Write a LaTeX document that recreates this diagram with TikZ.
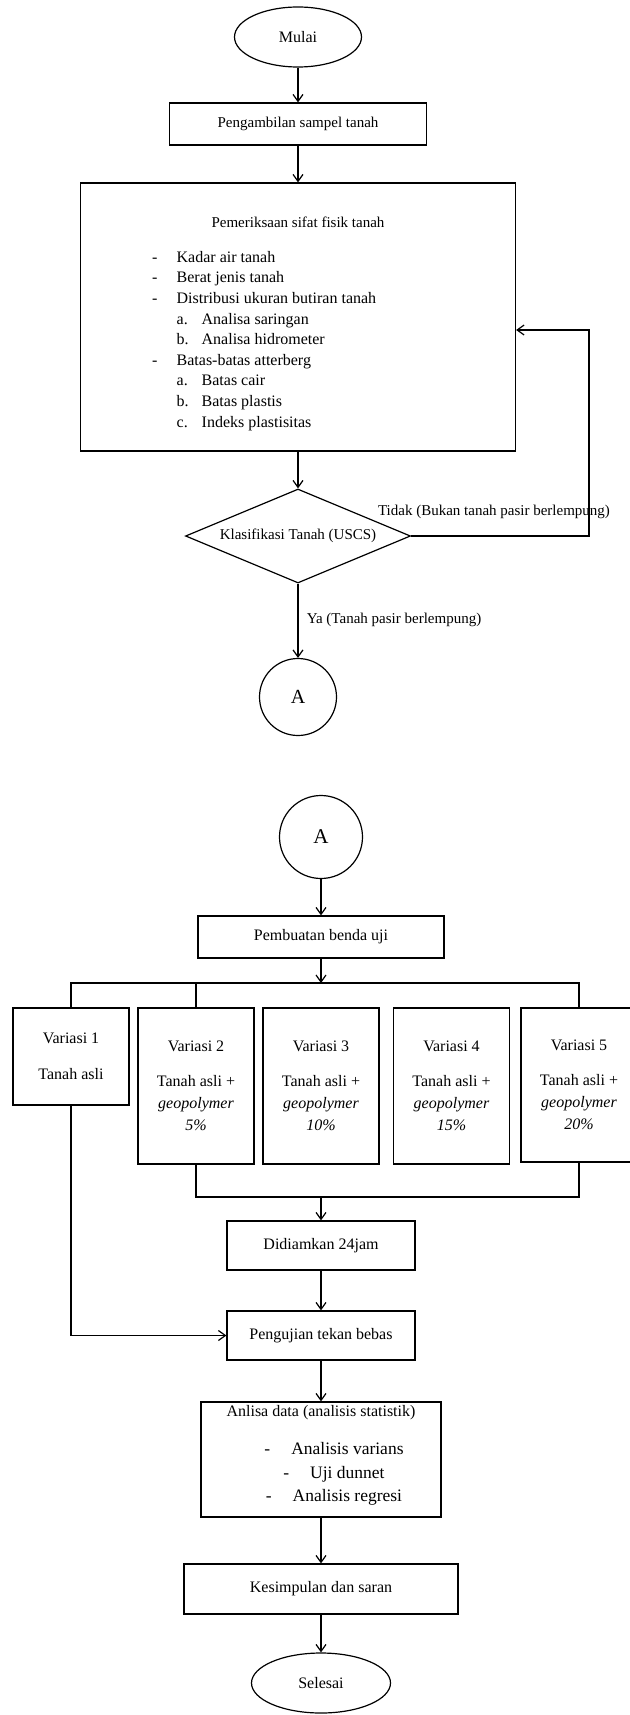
\documentclass[tikz,border=0pt]{standalone}
\usepackage{fontspec}
\setmainfont{Liberation Serif}
\usetikzlibrary{shapes.geometric,arrows.meta}

\begin{document}
\begin{tikzpicture}[x=1pt,y=-1pt,
    every node/.style={inner sep=0pt, font=\fontsize{16}{19}\selectfont},
    kotak/.style={rectangle, draw, line width=1.2pt},
    elips/.style={ellipse, draw, line width=1.2pt},
    lingkar/.style={circle, draw, line width=1.2pt},
    kecil/.style={font=\fontsize{15}{18}\selectfont},
    variasi/.style={kotak, align=center, minimum width=116pt, font=\fontsize{16}{22}\selectfont},
    garis/.style={line width=1.2pt},
    panah/.style={garis, -{Straight Barb[length=7pt,width=10pt,line width=1.2pt]}}]
      \useasboundingbox (0,0) rectangle (629,1715);

      % Nodes
      \node (mulai) at (298,37) [elips, minimum width=127pt, minimum height=60pt] {Mulai};
      \node (ambilbox) at (298,124) [kotak, kecil, minimum width=257pt, minimum height=42pt] {Pengambilan sampel tanah};
      \node (periksabox) at (298,317) [kotak, minimum width=435pt, minimum height=268pt] {};
      \node (periksajudul) at (298,222) [kecil] {Pemeriksaan sifat fisik tanah};
      \node (periksalist) at (152,251) [anchor=north west, align=left, font=\fontsize{16}{20.6}\selectfont] {%
        \makebox[24.5pt][l]{-}Kadar air tanah\\
        \makebox[24.5pt][l]{-}Berat jenis tanah\\
        \makebox[24.5pt][l]{-}Distribusi ukuran butiran tanah\\
        \hspace*{24.5pt}\makebox[25pt][l]{a.}Analisa saringan\\
        \hspace*{24.5pt}\makebox[25pt][l]{b.}Analisa hidrometer\\
        \makebox[24.5pt][l]{-}Batas-batas atterberg\\
        \hspace*{24.5pt}\makebox[25pt][l]{a.}Batas cair\\
        \hspace*{24.5pt}\makebox[25pt][l]{b.}Batas plastis\\
        \hspace*{24.5pt}\makebox[25pt][l]{c.}Indeks plastisitas};
      \node (klasdiamond) at (298,536) [diamond, draw, line width=1.2pt, aspect=2.4, minimum width=225pt, minimum height=94pt, kecil] {Klasifikasi Tanah (USCS)};
      \node (tidak) at (494,512) [kecil] {Tidak (Bukan tanah pasir berlempung)};
      \node (ya) at (394,620) [kecil] {Ya (Tanah pasir berlempung)};
      \node (Aatas) at (298,697) [lingkar, minimum size=77pt, font=\fontsize{20}{24}\selectfont] {A};
      \coordinate (balik) at (589,330);

      \node (Abawah) at (321,837) [lingkar, minimum size=83pt, font=\fontsize{21}{24}\selectfont] {A};
      \node (buatbox) at (321,937) [kotak, minimum width=246pt, minimum height=42pt] {Pembuatan benda uji};
      \node (var1box) at (71,1056.5) [variasi, minimum height=97pt] {Variasi 1\\[14pt]Tanah asli};
      \node (var2box) at (196,1086) [variasi, minimum height=156pt] {Variasi 2\\[13pt]Tanah asli +\\\textit{geopolymer}\\\textit{5\%}};
      \node (var3box) at (321,1086) [variasi, minimum height=156pt] {Variasi 3\\[13pt]Tanah asli +\\\textit{geopolymer}\\\textit{10\%}};
      \node (var4box) at (451.5,1086) [variasi, minimum height=156pt] {Variasi 4\\[13pt]Tanah asli +\\\textit{geopolymer}\\\textit{15\%}};
      \node (var5box) at (579,1085) [variasi, minimum height=154pt] {Variasi 5\\[13pt]Tanah asli +\\\textit{geopolymer}\\\textit{20\%}};
      \coordinate (busatas) at (0,983);
      \coordinate (busbawah) at (0,1197);
      \node (diambox) at (321,1245.5) [kotak, minimum width=188pt, minimum height=49pt] {Didiamkan 24jam};
      \node (tekanbox) at (321,1335.5) [kotak, minimum width=188pt, minimum height=49pt] {Pengujian tekan bebas};
      \node (analisabox) at (321,1459.5) [kotak, minimum width=240pt, minimum height=115pt] {};
      \node (analisajudul) at (321,1413) {Anlisa data (analisis statistik)};
      \node (analisalist) at (334,1442.5) [anchor=north, align=center, font=\fontsize{17.5}{23.5}\selectfont] {%
        -\hspace{21pt}Analisis varians\\
        -\hspace{21pt}Uji dunnet\\
        -\hspace{21pt}Analisis regresi};
      \node (simpulbox) at (321,1589) [kotak, minimum width=274pt, minimum height=50pt] {Kesimpulan dan saran};
      \node (selesai) at (321,1683) [elips, minimum width=139pt, minimum height=60pt] {Selesai};

      % Edges
      \draw[panah] (mulai) -- (ambilbox);
      \draw[panah] (ambilbox) -- (periksabox);
      \draw[panah] (periksabox) -- (klasdiamond);
      \draw[panah] (klasdiamond.east) -| (balik) -- (balik -| periksabox.east);
      \draw[panah] (klasdiamond) -- (Aatas);

      \draw[panah] (Abawah) -- (buatbox);
      \draw[panah] (buatbox) -- (buatbox |- busatas);
      \draw[garis] (var1box.north) |- (var5box.north |- busatas) -- (var5box.north);
      \draw[garis] (var2box.north) -- (var2box.north |- busatas);
      \draw[garis] (var2box.south) |- (var5box.south |- busbawah) -- (var5box.south);
      \draw[panah] (diambox |- busbawah) -- (diambox);
      \draw[panah] (var1box.south) |- (tekanbox.west);
      \draw[panah] (diambox) -- (tekanbox);
      \draw[panah] (tekanbox) -- (analisabox);
      \draw[panah] (analisabox) -- (simpulbox);
      \draw[panah] (simpulbox) -- (selesai);
    \end{tikzpicture}
\end{document}
